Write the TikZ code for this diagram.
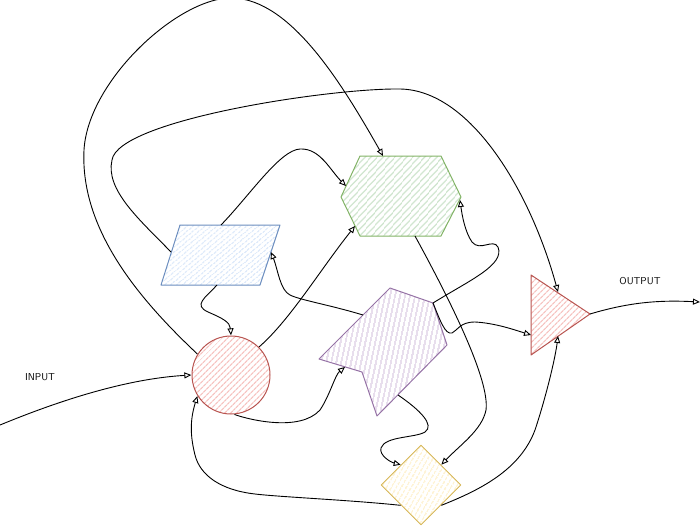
\documentclass[tikz,border=0pt]{standalone}
\usepackage{fontspec}
\usetikzlibrary{arrows.meta,patterns.meta,shapes.geometric}
\definecolor{redS}{HTML}{B85450}\definecolor{redF}{HTML}{F6C3C0}
\definecolor{blueS}{HTML}{6C8EBF}\definecolor{blueF}{HTML}{D0E1F8}
\definecolor{greenS}{HTML}{82B366}\definecolor{greenF}{HTML}{CCE3CB}
\definecolor{purpS}{HTML}{9673A6}\definecolor{purpF}{HTML}{DBCCE3}
\definecolor{yelS}{HTML}{D6B656}\definecolor{yelF}{HTML}{FDEDBE}
\begin{document}
\begin{tikzpicture}[x=1pt,y=-1pt,
  hatch/.style n args={3}{draw=#1, line width=1pt, line join=round,
     pattern={Lines[angle=#3,distance=4pt,line width=1.3pt]}, pattern color=#2},
  conn/.style={line width=0.9pt, draw=black, -{Triangle[open,length=7pt,width=6pt]}},
  wire/.style={line width=0.9pt, draw=black},
  lbl/.style={font=\sffamily\fontsize{10}{11}\selectfont, inner sep=0pt}]
\useasboundingbox (0,0) rectangle (700,527);
% shapes
\node[hatch={redS}{redF}{45}, circle, minimum size=78pt, inner sep=0pt] (c) at (231,375) {};
\node[hatch={yelS}{yelF}{60}, diamond, minimum width=80pt, minimum height=80pt, inner sep=0pt] (d) at (421,485) {};
\draw[hatch={blueS}{blueF}{40}] (180,225) -- (280,225) -- (260,285) -- (161,285) -- cycle;
\draw[hatch={greenS}{greenF}{48}] (360,156) -- (441,156) -- (461,197) -- (441,236) -- (360,236) -- (341,197) -- cycle;
\draw[hatch={purpS}{purpF}{78}] (390,288) -- (433,303) -- (447,345) -- (377,416) -- (362,372) -- (319,359) -- cycle;
\draw[hatch={redS}{redF}{45}] (531,275) -- (590,314) -- (531,355) -- cycle;
% connection points
\coordinate (pL) at (171,252);
\coordinate (pT) at (221,225);
\coordinate (pB) at (217,285);
\coordinate (pR) at (271,252);
\coordinate (hT) at (383,156);
\coordinate (hL) at (346,186);
\coordinate (hLL) at (355,226);
\coordinate (hR) at (460,200);
\coordinate (hB) at (415,236);
\coordinate (qTR) at (433,303);
\coordinate (qUL) at (363,315);
\coordinate (qLA) at (345,367);
\coordinate (qB) at (398,395);
\coordinate (tR) at (590,314);
\coordinate (tL) at (531,335);
\coordinate (tT) at (558,292);
\coordinate (tB) at (558,336);
\coordinate (inp) at (0,425);
\coordinate (outp) at (700,302);
% labels
\node[lbl] (inlbl) at (40,377) {INPUT};
\node[lbl] (outlbl) at (640,281) {OUTPUT};
% connectors
\draw[conn] (inp) .. controls (80,392) and (140,378) .. (c.180);
\draw[conn] (tR) .. controls (630,302) and (660,300) .. (outp);
\draw[conn] (c.148) .. controls (140,300) and (80,230) .. (84,150)
  .. controls (88,80) and (180,-4) .. (233,-2)
  .. controls (290,0) and (340,80) .. (hT);
\draw[conn] (pL) .. controls (140,220) and (105,190) .. (112,160)
  .. controls (118,120) and (330,88) .. (400,89)
  .. controls (470,90) and (530,190) .. (tT);
\draw[conn] (pT) .. controls (250,195) and (280,150) .. (300,149)
  .. controls (320,148) and (330,170) .. (hL);
\draw[conn] (pB) .. controls (205,298) and (193,305) .. (208,312)
  .. controls (222,318) and (230,322) .. (c.90);
\draw[conn] (c.45) .. controls (290,320) and (320,270) .. (hLL);
\draw[conn] (c.275) .. controls (250,420) and (300,432) .. (320,410)
  .. controls (330,395) and (335,375) .. (qLA);
\draw[conn] (qUL) .. controls (330,305) and (300,300) .. (290,295)
  .. controls (280,290) and (278,270) .. (pR);
\draw[conn] (qTR) .. controls (470,280) and (505,265) .. (498,247)
  .. controls (493,238) and (480,252) .. (472,242)
  .. controls (465,232) and (462,215) .. (hR);
\draw[conn] (qTR) .. controls (440,320) and (445,335) .. (452,333)
  .. controls (458,330) and (460,322) .. (475,322)
  .. controls (495,323) and (515,330) .. (tL);
\draw[conn] (hB) .. controls (450,300) and (490,380) .. (486,410)
  .. controls (482,430) and (460,445) .. (d.45);
\draw[conn] (qB) .. controls (420,410) and (435,425) .. (425,432)
  .. controls (415,438) and (385,436) .. (381,448)
  .. controls (379,455) and (390,462) .. (d.135);
\draw[conn] (d.225) .. controls (350,500) and (280,497) .. (255,494)
  .. controls (220,490) and (200,475) .. (195,455)
  .. controls (190,435) and (190,420) .. (c.212);
\draw[conn] (d.-45) .. controls (480,490) and (520,470) .. (535,430)
  .. controls (545,400) and (555,360) .. (tB);
\end{tikzpicture}
\end{document}
